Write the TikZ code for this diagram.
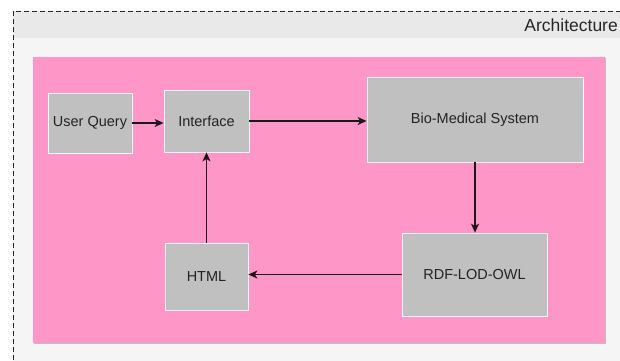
\documentclass[tikz,border=0pt]{standalone}
\usepackage{fontspec}
\setmainfont{Liberation Sans}
\usetikzlibrary{arrows.meta,shadows}
\definecolor{pinkbg}{RGB}{255,150,200}
\definecolor{boxgray}{RGB}{192,192,192}
\definecolor{hdrgray}{RGB}{233,233,233}
\definecolor{bodygray}{RGB}{245,245,245}
\definecolor{txtgray}{RGB}{35,35,35}
\begin{document}
\begin{tikzpicture}[x=1pt,y=-1pt,
  block/.style={rectangle, fill=boxgray, draw=white!85!boxgray, line width=0.8pt,
    inner sep=0pt, font=\fontsize{14.5}{18}\selectfont, text=txtgray,
    drop shadow={shadow xshift=1.2pt, shadow yshift=-1.2pt, fill=black!40, opacity=1}},
  area/.style={rectangle, fill=pinkbg, draw=none, inner sep=0pt,
    drop shadow={shadow xshift=1pt, shadow yshift=-1pt, fill=black!25, opacity=1}},
  link/.style={draw=black!90, line width=1.2pt, -{Stealth[length=9pt,width=8pt,inset=2.5pt]}},
  frame/.style={draw=black!85, line width=1pt, dash pattern=on 5pt off 3pt}]
\useasboundingbox (0,0) rectangle (620,360);
\clip (0,0) rectangle (620,360);
\fill[white] (0,0) rectangle (620,360);
\fill[bodygray] (13,11) rectangle (630,370);
\fill[hdrgray] (13,11) rectangle (630,38);
\draw[frame] (13,11) rectangle (630,370);
\node[anchor=east, font=\fontsize{17.5}{20}\selectfont, text=black!85, inner sep=0pt] (title) at (618,25) {Architecture};

\node[area, minimum width=572pt, minimum height=286pt] (pinkarea) at (319,200) {};

\node[block, minimum width=84pt, minimum height=60pt] (uq) at (90,123) {User Query};
\node[block, minimum width=85pt, minimum height=62pt] (if) at (206.5,121) {Interface};
\node[block, minimum width=216pt, minimum height=85pt] (bio) at (475,119.5) {Bio-Medical System};
\node[block, minimum width=83pt, minimum height=67pt] (html) at (206.5,276.5) {HTML};
\node[block, minimum width=145pt, minimum height=83pt] (rdf) at (474.5,274.5) {RDF-LOD-OWL};

\draw[link] (uq.east) -- (uq.east -| if.west);
\draw[link] (if.east) -- (if.east -| bio.west);
\draw[link] (bio.south) -- (bio.south |- rdf.north);
\draw[link] (html.north) -- (html.north |- if.south);
\draw[link] (rdf.west) -- (rdf.west -| html.east);
\end{tikzpicture}
\end{document}
